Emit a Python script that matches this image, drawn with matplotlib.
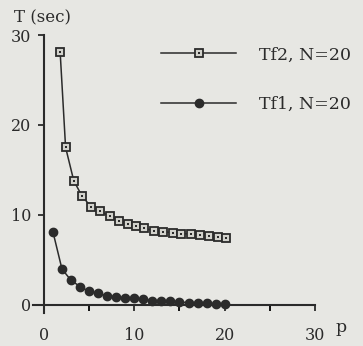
import matplotlib
matplotlib.use('Agg')
import matplotlib.pyplot as plt
from matplotlib.legend_handler import HandlerTuple

# values
p_tf2 = [1.8, 2.4, 3.3, 4.2, 5.2, 6.2, 7.3, 8.3, 9.3, 10.2,
         11.1, 12.2, 13.2, 14.3, 15.2, 16.3, 17.3, 18.3, 19.3, 20.2]
t_tf2 = [28.1, 17.5, 13.8, 12.1, 10.9, 10.4, 9.8, 9.3, 9.0, 8.7,
         8.5, 8.2, 8.1, 8.0, 7.9, 7.85, 7.7, 7.65, 7.5, 7.35]
p_tf1 = [1, 2, 3, 4, 5, 6, 7, 8, 9, 10,
         11, 12, 13, 14, 15, 16, 17, 18, 19, 20]
t_tf1 = [8.1, 3.95, 2.7, 2.0, 1.45, 1.25, 0.95, 0.87, 0.7, 0.7,
         0.58, 0.42, 0.39, 0.39, 0.3, 0.2, 0.13, 0.13, 0.05, 0.02]
label_tf2 = 'Tf2, N=20'
label_tf1 = 'Tf1, N=20'
xticks = [0, 10, 20, 30]
yticks = [0, 10, 20, 30]

paper = '#e7e7e3'
ink = '#2b2b2b'
plt.rcParams['font.family'] = ['DejaVu Serif']

fig = plt.figure(figsize=(3.63, 3.46), dpi=100, facecolor=paper)
ax = fig.add_axes([0.091, 0.0965, 0.777, 0.8023])
ax.set_facecolor(paper)

l2, = ax.plot(p_tf2, t_tf2, color=ink, lw=1.1, marker='s', ms=6,
              mfc='#d2d2cc', mec=ink, mew=1.3)
d2, = ax.plot(p_tf2, t_tf2, ls='none', marker='s', ms=1.6,
              mfc=ink, mec=ink, mew=0)
l1, = ax.plot(p_tf1, t_tf1, color=ink, lw=1.1, marker='o', ms=6,
              mfc=ink, mec=ink)

ax.set_xlim(-1.2, 30)
ax.set_ylim(-0.9, 30)
for s in ['top', 'right']:
    ax.spines[s].set_visible(False)
ax.spines['left'].set_position(('data', 0))
ax.spines['bottom'].set_position(('data', 0))
for s in ['left', 'bottom']:
    ax.spines[s].set_color(ink)
    ax.spines[s].set_linewidth(1.5)

ax.set_xticks(xticks)
ax.set_xticks([5, 15, 25], minor=True)
ax.set_yticks(yticks)
ax.tick_params(axis='both', colors=ink, labelsize=11.5, width=1.3, length=4)
ax.tick_params(axis='x', which='major', pad=12)
ax.tick_params(axis='x', which='minor', width=1.3, length=4)
ax.tick_params(axis='y', pad=5)

fig.text(0.116, 0.948, 'T (sec)', fontsize=12, color=ink,
         ha='center', va='center')
fig.text(0.94, 0.053, 'p', fontsize=12.5, color=ink, ha='center', va='center')

ax.legend([(l2, d2), l1], [label_tf2, label_tf1],
          handler_map={tuple: HandlerTuple(ndivide=1)},
          loc='upper left', bbox_to_anchor=(0.4, 1.015), frameon=False,
          fontsize=12.5, handlelength=4.3, handletextpad=1.3,
          labelspacing=1.85, labelcolor=ink)

fig.savefig('out.png', dpi=100, facecolor=paper)
